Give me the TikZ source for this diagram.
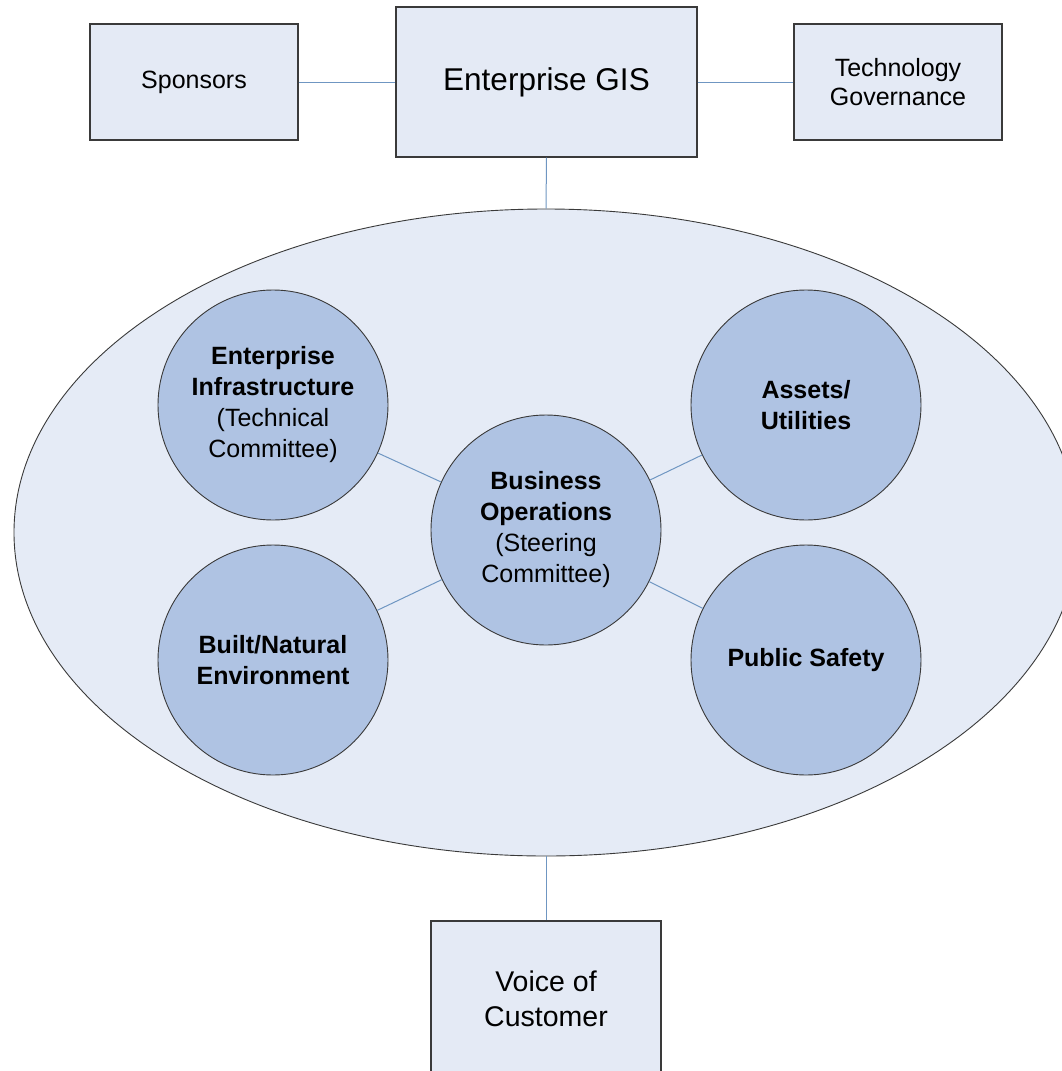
\documentclass[tikz,border=0pt]{standalone}
\usepackage{fontspec}
\setmainfont{Liberation Sans}
\usetikzlibrary{shapes.geometric}
\definecolor{boxfill}{HTML}{E4EAF5}
\definecolor{ovalfill}{HTML}{E5EBF6}
\definecolor{circfill}{HTML}{AFC3E3}
\definecolor{edgecol}{HTML}{3A3A3A}
\definecolor{linkcol}{HTML}{6F96C2}
\tikzset{
  rbox/.style={draw=edgecol, fill=boxfill, line width=1.3pt, inner sep=0pt, align=center,
    font=\fontsize{25}{29}\selectfont},
  orgcirc/.style={circle, draw=edgecol, fill=circfill, line width=0.9pt, minimum size=230pt,
    inner sep=0pt, align=center, font=\fontsize{25}{31}\selectfont},
  link/.style={draw=linkcol, line width=1pt},
}
\begin{document}
\begin{tikzpicture}[x=1pt,y=-1pt]
\useasboundingbox (0,0) rectangle (1061,1071);
% top row
\node[rbox, minimum width=208pt, minimum height=116pt] (sp) at (194,82) {Sponsors};
\node[rbox, minimum width=301pt, minimum height=150pt, font=\fontsize{31.5}{36}\selectfont] (eg) at (546.5,82) {Enterprise GIS};
\node[rbox, minimum width=208pt, minimum height=116pt] (tg) at (898,82) {Technology\\Governance};
% big oval
\node[ellipse, draw=edgecol, fill=ovalfill, line width=0.9pt, minimum width=1064pt, minimum height=647pt, inner sep=0pt] (org) at (546,532.5) {};
% circles
\node[orgcirc] (ei) at (273,405) {\textbf{Enterprise}\\\textbf{Infrastructure}\\(Technical\\Committee)};
\node[orgcirc] (au) at (806,405) {\textbf{Assets/}\\\textbf{Utilities}};
\node[orgcirc] (bo) at (546,530) {\textbf{Business}\\\textbf{Operations}\\(Steering\\Committee)};
\node[orgcirc] (bn) at (273,660) {\textbf{Built/Natural}\\\textbf{Environment}};
\node[orgcirc] (ps) at (806,660) {\textbf{Public Safety}};
% bottom box
\node[rbox, minimum width=230pt, minimum height=156pt, font=\fontsize{28.5}{35}\selectfont] (vc) at (546,999) {Voice of\\Customer};
% connectors
\draw[link] (sp) -- (eg);
\draw[link] (eg) -- (tg);
\draw[link] (eg.south) -- (org.north);
\draw[link] (org.south) -- (vc.north);
\draw[link] (bo) -- (ei);
\draw[link] (bo) -- (au);
\draw[link] (bo) -- (bn);
\draw[link] (bo) -- (ps);
\end{tikzpicture}
\end{document}
